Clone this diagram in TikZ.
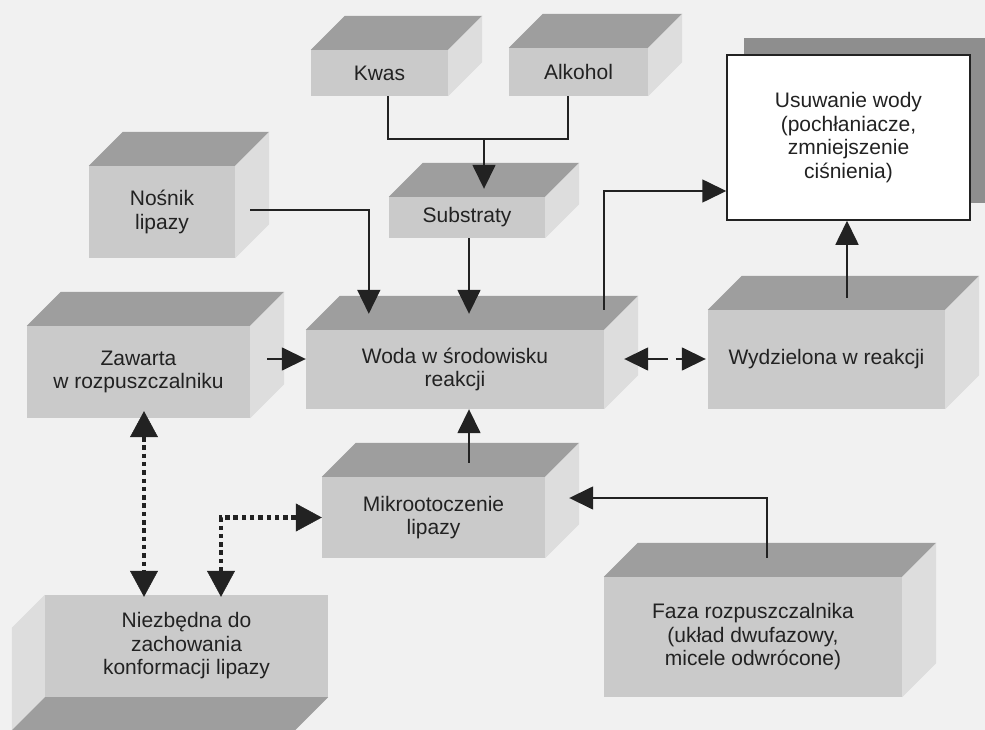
\documentclass[tikz,border=0pt]{standalone}
\usepackage{fontspec}
\setmainfont{Liberation Sans}
\usetikzlibrary{arrows.meta,calc,shadows}
\definecolor{bgc}{HTML}{F1F1F1}
\definecolor{frontc}{HTML}{CACACA}
\definecolor{topc}{HTML}{9E9E9E}
\definecolor{sidec}{HTML}{DDDDDD}
\definecolor{shadowc}{HTML}{8E8E8E}
\definecolor{ink}{HTML}{222222}
\tikzset{
  frontface/.style={fill=frontc, inner sep=0pt, align=center, text=ink,
    font=\fontsize{21}{23.5}\selectfont},
  topface/.style={fill=topc},
  sideface/.style={fill=sidec},
  whitebox/.style={fill=white, draw=ink, line width=1.5pt, inner sep=0pt, align=center, text=ink,
    font=\fontsize{21}{23.5}\selectfont,
    drop shadow={shadow xshift=17pt, shadow yshift=17pt, fill=shadowc, opacity=1, draw=none}},
  conn/.style={draw=ink, line width=1.6pt},
  tipa/.tip={Triangle[length=24pt,width=23pt]},
  tipb/.tip={Triangle[length=26pt,width=28pt,line width=0.5pt]},
  arr/.style={conn, -tipa},
  darr/.style={conn, tipa-tipa, dash pattern=on 20pt off 8pt},
  dotarr/.style={draw=ink, line width=4.5pt, dash pattern=on 4.5pt off 3.8pt, tipb-tipb}
}
\newcommand{\boxcube}[6]{%
  \node[frontface, minimum width=#4pt, minimum height=#5pt] (#1) at (#2,#3) {#6};
  \fill[topface] (#1.north west) -- ++(34,-34) -- ([shift={(34,-34)}]#1.north east) -- (#1.north east) -- cycle;
  \fill[sideface] (#1.north east) -- ++(34,-34) -- ([shift={(34,-34)}]#1.south east) -- (#1.south east) -- cycle;
}
\begin{document}
\begin{tikzpicture}[x=1pt,y=-1pt]
\useasboundingbox (0,0) rectangle (985,730);
\fill[bgc] (0,0) rectangle (985,730);
\clip (0,0) rectangle (985,730);

\boxcube{kwas}{379.5}{73}{137}{46}{Kwas}
\boxcube{alk}{578.5}{72}{139}{48}{Alkohol}
\boxcube{sub}{467}{217.5}{156}{41}{Substraty}
\boxcube{nos}{162}{212}{146}{92}{Nośnik\\lipazy}
\boxcube{zaw}{138.5}{372}{223}{92}{Zawarta\\w rozpuszczalniku}
\boxcube{woda}{455}{369.5}{298}{79}{Woda w środowisku\\reakcji}
\boxcube{wyd}{826.5}{359.5}{237}{99}{Wydzielona w reakcji}
\boxcube{mik}{433.5}{517.5}{223}{81}{Mikrootoczenie\\lipazy}
\boxcube{faza}{753}{637}{298}{120}{Faza rozpuszczalnika\\(układ dwufazowy,\\micele odwrócone)}

% box seen from below-left
\node[frontface, minimum width=283pt, minimum height=102pt] (niez) at (186.5,646) {Niezbędna do\\zachowania\\konformacji lipazy};
\fill[sideface] (niez.north west) -- ++(-33,33) -- ([shift={(-33,33)}]niez.south west) -- (niez.south west) -- cycle;
\fill[topface] (niez.south west) -- ++(-33,33) -- ([shift={(-33,33)}]niez.south east) -- (niez.south east) -- cycle;

% water removal box with shadow
\node[whitebox, minimum width=243pt, minimum height=165pt] (usu) at (848.5,137.5)
  {Usuwanie wody\\(pochłaniacze,\\zmniejszenie\\ciśnienia)};

% connectors
\coordinate (j) at (484,139);
\draw[conn] ($(kwas.south)+(8.5,0)$) |- (j);
\draw[conn] ($(alk.south)+(-10.5,0)$) |- (j);
\draw[arr] (j) -- ($(j |- sub.north)+(0,-8)$);
\draw[arr] ($(nos.east)+(15,-2)$) -| ($(woda.north west)+(63,-16)$);
\draw[arr] ($(sub.south)+(2,0)$) -- ($(sub.south |- woda.north)+(2,-16)$);
\draw[arr] ($(zaw.east)+(17,-13)$) -- ($(woda.west)+(0,-10.5)$);
\draw[arr] ($(mik.north)+(35.5,-14)$) -- ($(woda.south)+(14,0)$);
\draw[arr] ($(woda.north east)+(0,-20)$) |- ($(usu.west)+(0,53.5)$);
\draw[arr] ($(wyd.north)+(20.5,-12)$) -- ($(usu.south)+(-1.5,0)$);
\draw[darr] ($(woda.east)+(20,-10.5)$) -- ($(wyd.west)+(-2,-0.5)$);
\draw[arr] ($(faza.north)+(14,-19)$) |- ($(mik.east)+(24,-19.5)$);
\draw[dotarr] ($(zaw.south)+(5.5,-7)$) -- ($(niez.north)+(-42.5,2)$);
\draw[dotarr] ($(mik.west)+(0,0)$) -| ($(niez.north)+(34.5,2)$);
\end{tikzpicture}
\end{document}
